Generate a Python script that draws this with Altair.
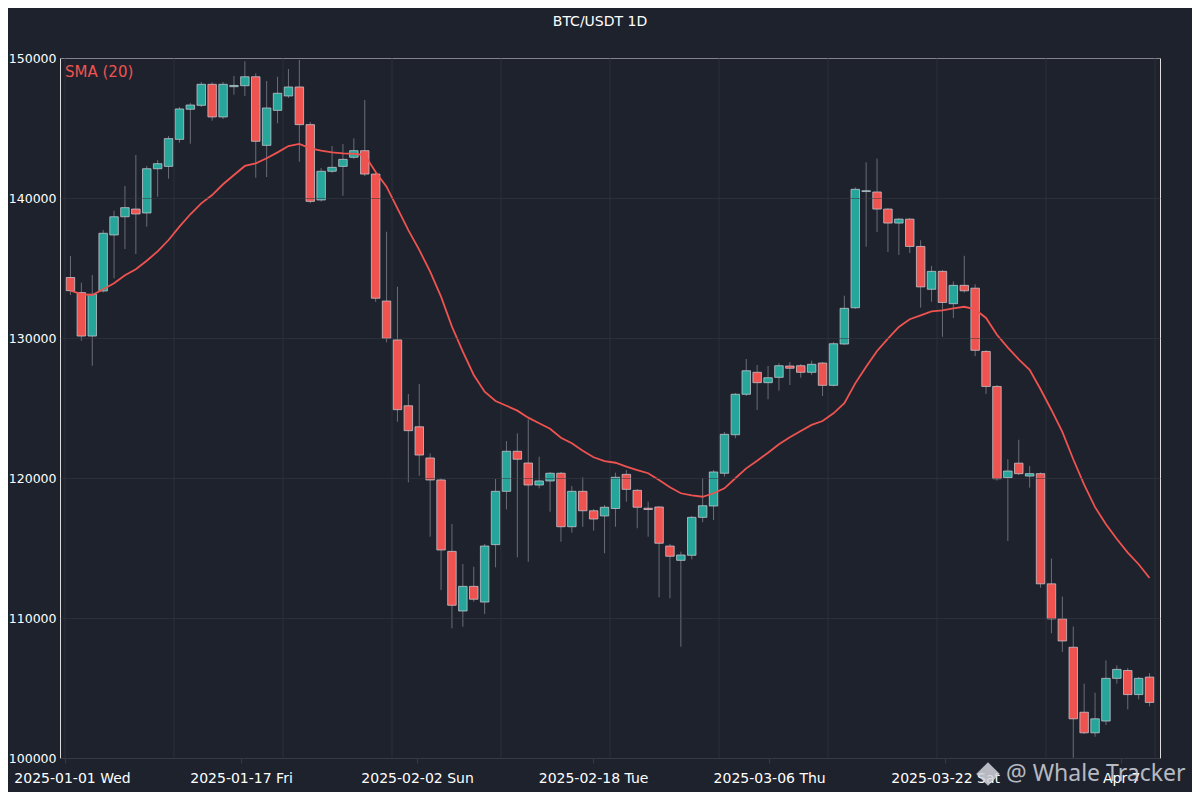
import json
import altair as alt
import pandas as pd

# ---- data ----
idx = list(range(100))
open_ = [134320,133240,130140,133360,137360,138660,139210,138930,142090,142260,
         144190,146340,146620,148120,145790,147950,148020,148660,143760,146260,
         147290,147930,145240,139860,141910,142260,142910,143380,141710,132640,
         129860,125160,123660,121430,119860,114760,110500,112260,111140,115240,
         119050,121910,121070,119500,119790,120340,116520,119050,117660,117290,
         117820,120260,119120,117840,117930,115140,114120,114480,117190,118000,
         120340,123090,125980,127550,126810,127190,128000,128020,127550,128210,
         126620,129570,132160,140460,140430,139210,138210,138490,136540,133480,
         134760,132450,133760,133560,129040,126540,120030,121060,120140,120310,
         112440,109940,107910,103270,101800,102640,105690,106250,104530,105780]
close = [133380,130140,133120,137480,138660,139310,138860,142090,142450,144240,
         146360,146640,148120,145790,148120,148040,148660,144050,146430,147480,
         147930,145240,139760,141910,142190,142760,143380,141710,132840,129980,
         124880,123380,121640,119860,114860,110910,112260,111340,115140,119050,
         121910,121340,119500,119790,120340,116520,119050,117660,117070,117910,
         120050,119190,117910,117750,115340,114410,114500,117190,118020,120430,
         123120,125980,127660,126810,127160,128020,127840,127550,128120,126620,
         129590,132120,140620,140520,139210,138210,138490,136540,133650,134760,
         132540,133760,133370,129120,126540,119950,120500,120310,120310,112440,
         109940,108360,102800,101800,102800,105690,106330,104530,105690,103970]
high = [135860,133950,134500,137710,139090,140860,143070,142290,142710,144430,
        146500,146790,148290,148260,148290,148710,149760,148910,148360,148660,
        149210,149860,145430,142140,143710,143860,144260,147000,141860,137590,
        133660,126000,126710,121760,120000,116710,113860,113660,115290,119930,
        122640,123190,124190,121520,120430,120430,119430,120050,117790,118070,
        120380,120570,119210,118310,118000,115290,114740,117290,119980,120570,
        123290,126070,128500,128070,128000,128190,128290,128140,128380,128290,
        129710,133020,140760,142550,142820,139290,138570,138570,136980,135150,
        134860,134040,135870,133840,129140,126640,121340,122730,120860,120390,
        114250,111530,109390,105310,104660,106970,106610,106430,105790,106060]
low = [133070,129810,128020,133250,134260,136360,136000,137950,140090,141380,
       143950,143880,146500,145520,145640,147380,147290,141450,141500,145340,
       147140,142590,139620,139750,141790,140160,142790,141570,132590,129690,
       124020,119690,120160,115810,112000,109260,109380,111160,110290,113620,
       117760,114340,114020,119260,117590,115450,116090,116520,116240,114620,
       116520,118310,116410,115810,111480,111410,107950,114190,116840,117000,
       120090,122840,125860,124860,125620,126240,126640,127160,127360,125860,
       126540,129500,132070,136520,137570,136140,135930,136070,132170,132590,
       130090,131430,133250,128700,126000,119820,115500,120210,119310,112160,
       108910,107580,100020,101710,101520,102360,105310,103470,104190,103690]
ma20 = [133380,133140,133070,133480,133910,134480,134910,135520,136190,137000,
        137950,138840,139620,140210,140980,141640,142290,142480,142840,143260,
        143710,143860,143550,143380,143260,143190,143160,143070,141860,140810,
        139260,137710,136290,134740,132950,130810,129020,127360,126160,125500,
        125160,124810,124310,123910,123520,122880,122480,121950,121480,121210,
        121090,120810,120570,120340,119860,119340,118910,118760,118660,118910,
        119260,119980,120690,121240,121810,122410,122910,123360,123790,124070,
        124620,125340,126760,127950,129070,129960,130790,131340,131620,131900,
        131980,132120,132230,132040,131430,130230,129310,128480,127730,126340,
        124860,123290,121340,119530,117920,116700,115640,114670,113840,112860]

title_text = "BTC/USDT 1D"
legend_label = "SMA (20)"
y_ticks = [100000, 110000, 120000, 130000, 140000, 150000]
x_ticks = [-0.5, 15.65, 31.8, 47.95, 64.1, 80.25, 96.4]
x_tick_labels = ["2025-01-01 Wed", "2025-01-17 Fri", "2025-02-02 Sun",
                 "2025-02-18 Tue", "2025-03-06 Thu", "2025-03-22 Sat", "Apr 7"]
x_grid = [-0.5, 9.5, 19.5, 29.5, 39.5, 49.5, 59.5, 69.5, 79.5, 89.5, 99.5]
watermark = "@ Whale Tracker"

# ---- styling ----
BG = "#1e222d"
UP = "#26a69a"
DOWN = "#ef5350"
GRID = "#363a45"
FONT = "DejaVu Sans"

df = pd.DataFrame({"i": idx, "open": open_, "high": high, "low": low,
                   "close": close, "ma": ma20})
grid_df = pd.DataFrame({"g": x_grid})

xscale = alt.Scale(domain=[-0.5, 99.5], nice=False, zero=False)
yscale = alt.Scale(domain=[100000, 150000], nice=False, zero=False)

x_label_expr = "{}[indexof({}, datum.value)]".format(
    json.dumps(x_tick_labels, ensure_ascii=False), json.dumps(x_ticks))

xaxis = alt.Axis(values=x_ticks, labelExpr=x_label_expr, grid=False, title=None,
                 labelFlush=False, labelOverlap=False, labelColor="#ffffff",
                 labelFontSize=14, labelPadding=8, tickColor=GRID, tickSize=5,
                 domainColor=GRID, zindex=0,
                 labelOffset={"condition": {"test": "datum.value < 0", "value": 7},
                              "value": 0})
yaxis = alt.Axis(values=y_ticks, format="d", title=None,
                 grid=True, gridColor=GRID, gridOpacity=0.55, domain=False,
                 ticks=False, labelColor="#ffffff", labelFontSize=12.5,
                 labelPadding=4, zindex=1)

def X(field):
    return alt.X(field, type="quantitative", scale=xscale, axis=xaxis)

def Y(field):
    return alt.Y(field, type="quantitative", scale=yscale, axis=yaxis)

wicks = alt.Chart(df).mark_rule(color="#8a8d96", strokeWidth=1, opacity=0.7).encode(
    x=X("i"), y=Y("low"), y2="high")

bodies = alt.Chart(df).mark_bar(size=8.5, stroke="#c8cad2", strokeWidth=1,
                                strokeOpacity=0.75).encode(
    x=X("i"), y=Y("open"), y2="close",
    color=alt.condition("datum.close >= datum.open", alt.value(UP), alt.value(DOWN)))

vgrid = alt.Chart(grid_df).mark_rule(color=GRID, strokeWidth=1, opacity=0.55).encode(
    x=X("g"))

ma_line = alt.Chart(df).mark_line(color=DOWN, strokeWidth=1.8).encode(
    x=X("i"), y=Y("ma"))

legend = alt.Chart(pd.DataFrame({"t": [legend_label]})).mark_text(
    color=DOWN, fontSize=15, align="left", baseline="middle", font=FONT).encode(
    text="t:N", x=alt.value(5), y=alt.value(14))

wm_logo = alt.Chart(pd.DataFrame({"t": [watermark]})).mark_point(
    shape="diamond", filled=True, color="#d1d4dc", opacity=0.85, size=560).encode(
    x=alt.value(928), y=alt.value(716))

wm_text = alt.Chart(pd.DataFrame({"t": [watermark]})).mark_text(
    color="#d1d4dc", opacity=0.85, fontSize=23, align="left", baseline="middle",
    font="Noto Sans").encode(text="t:N", x=alt.value(946), y=alt.value(716))

chart = alt.layer(wicks, bodies, vgrid, ma_line, legend, wm_logo, wm_text).properties(
    width=1100, height=700,
    title=alt.Title(title_text, color="#ffffff", fontSize=14, fontWeight="normal",
                    font=FONT, anchor="middle", offset=23, dx=-10),
    background=BG,
    padding={"left": 52, "top": 50, "right": 32, "bottom": 34},
    autosize=alt.AutoSizeParams(type="none"),
).configure_view(stroke=None).configure(font=FONT)

chart.save("out.html", embed_options={"renderer": "svg", "actions": False})
